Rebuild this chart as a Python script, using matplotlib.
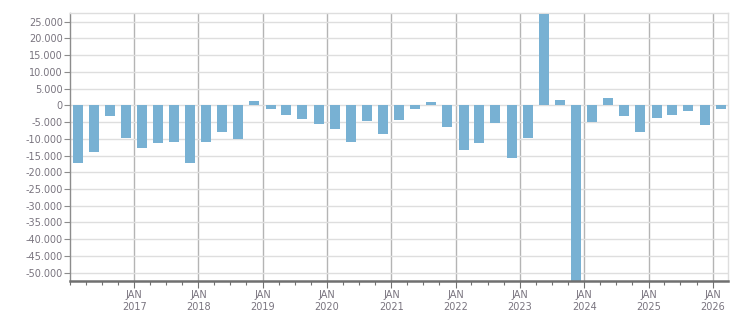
#!/usr/bin/env python3
"""Quarterly balance bar chart, 2016-2026."""
import datetime as dt

import matplotlib
matplotlib.use("Agg")
import matplotlib.pyplot as plt
import matplotlib.dates as mdates
from matplotlib.ticker import FuncFormatter, MultipleLocator, FixedLocator

# Colors
BAR = "#78b1d3"
GRID_H = "#dedede"
GRID_V = "#b4b4b4"
AXIS = "#707070"
TEXT = "#79747f"

# Data: one value per quarter, 2016 Q1 .. 2026 Q1
quarter_years = [2016] * 4 + [2017] * 4 + [2018] * 4 + [2019] * 4 + [2020] * 4 \
    + [2021] * 4 + [2022] * 4 + [2023] * 4 + [2024] * 4 + [2025] * 4 + [2026]
quarter_nums = [1, 2, 3, 4] * 10 + [1]
values = [
    -17200, -13900, -3100, -9700,
    -12700, -11200, -10900, -17200,
    -10900, -7900, -10000, 1300,
    -1100, -2900, -4100, -5600,
    -7100, -11000, -4700, -8600,
    -4400, -1100, 1000, -6500,
    -13400, -11300, -5300, -15800,
    -9800, 27300, 1600, -53000,
    -5000, 2200, -3200, -8000,
    -3800, -2900, -1700, -5900,
    -1100,
]
label_years = list(range(2017, 2027))

# mid-quarter date for each bar
dates = [dt.date(y, 3 * (q - 1) + 1, 1) + dt.timedelta(days=45)
         for y, q in zip(quarter_years, quarter_nums)]

fig = plt.figure(figsize=(7.51, 3.13), dpi=100)
fig.patch.set_facecolor("white")
ax = fig.add_axes([0.0928, 0.1032, 0.8766, 0.8553])

ax.bar(dates, values, width=57, color=BAR, zorder=3)

ax.set_xlim(dt.date(2016, 1, 1), dt.date(2026, 3, 28))
ax.set_ylim(-52400, 27600)

# axes / ticks
ax.yaxis.set_major_locator(MultipleLocator(5000))
ax.yaxis.set_major_formatter(FuncFormatter(lambda v, _: f"{int(v):,}".replace(",", ".")))
ax.xaxis.set_major_locator(FixedLocator(
    [mdates.date2num(dt.date(y, 1, 1)) for y in label_years]))
ax.xaxis.set_minor_locator(mdates.MonthLocator(bymonth=[1, 4, 7, 10]))
ax.xaxis.set_major_formatter(FuncFormatter(
    lambda v, _: "JAN\n" + mdates.num2date(v).strftime("%Y")))

ax.grid(axis="y", color=GRID_H, lw=1.0, zorder=0)
ax.grid(axis="x", which="major", color=GRID_V, lw=1.0, zorder=1)

for side in ("top", "right"):
    ax.spines[side].set_color(GRID_H)
    ax.spines[side].set_linewidth(1.0)
ax.spines["left"].set_color("#8c8c8c")
ax.spines["left"].set_linewidth(1.0)
ax.spines["bottom"].set_color(AXIS)
ax.spines["bottom"].set_linewidth(1.8)
ax.spines["bottom"].set_zorder(4)

ax.tick_params(axis="y", length=4, width=0.8, color="#8c8c8c", labelsize=7,
               labelcolor=TEXT, pad=1)
ax.tick_params(axis="x", which="major", length=5, width=0.8, color=AXIS,
               labelsize=7, labelcolor=TEXT, pad=2)
ax.tick_params(axis="x", which="minor", length=3, width=0.8, color=AXIS)

fig.savefig("out.png", dpi=100, facecolor="white")
plt.close(fig)
